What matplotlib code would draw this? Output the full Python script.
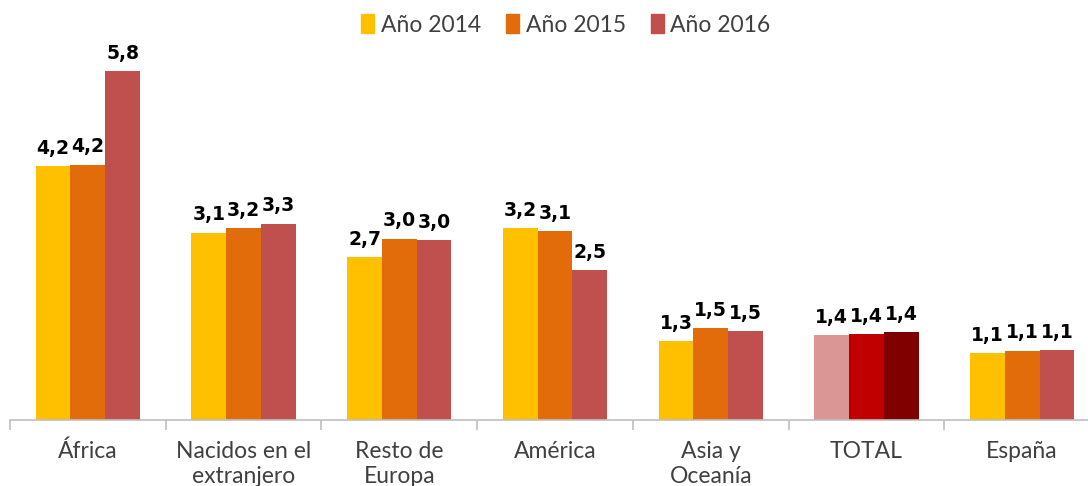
import matplotlib
matplotlib.use("Agg")
import matplotlib.pyplot as plt
import numpy as np
from matplotlib.patches import Patch

categories = ["África", "Nacidos en el\nextranjero", "Resto de\nEuropa", "América",
              "Asia y\nOceanía", "TOTAL", "España"]
series_names = ["Año 2014", "Año 2015", "Año 2016"]
v2014 = [4.22, 3.11, 2.71, 3.19, 1.31, 1.41, 1.11]
v2015 = [4.24, 3.19, 3.01, 3.14, 1.53, 1.43, 1.15]
v2016 = [5.80, 3.26, 2.99, 2.49, 1.48, 1.46, 1.16]
labels2014 = ["4,2", "3,1", "2,7", "3,2", "1,3", "1,4", "1,1"]
labels2015 = ["4,2", "3,2", "3,0", "3,1", "1,5", "1,4", "1,1"]
labels2016 = ["5,8", "3,3", "3,0", "2,5", "1,5", "1,4", "1,1"]

colors = ["#FFC000", "#E36C0A", "#C0504D"]
total_colors = ["#D99694", "#C00000", "#800000"]

W, H = 1088, 486
fig = plt.figure(figsize=(W / 100, H / 100), dpi=100)
ymax = 6.5
px_per_unit = 60.2
base_y = 420
ax = fig.add_axes([10 / W, 1 - base_y / H, 1090 / W, ymax * px_per_unit / H])

x = np.arange(len(categories))
bw = 0.223
series = [v2014, v2015, v2016]
labs = [labels2014, labels2015, labels2016]
for i, (vals, lab) in enumerate(zip(series, labs)):
    cols = [colors[i]] * len(vals)
    cols[categories.index("TOTAL")] = total_colors[i]
    pos = x + (i - 1) * bw
    ax.bar(pos, vals, width=bw, color=cols, label=series_names[i], linewidth=0)
    for xp, v, t in zip(pos, vals, lab):
        ax.annotate(t, (xp, v), xytext=(0, 6), textcoords="offset points",
                    ha="center", va="bottom", fontsize=13.5, fontweight="bold",
                    family="DejaVu Sans", color="black")

ax.set_xlim(-0.5, len(categories) - 0.5)
ax.set_ylim(0, ymax)
ax.set_yticks([])
for s in ["top", "right", "left"]:
    ax.spines[s].set_visible(False)
ax.spines["bottom"].set_color("#BFBFBF")
ax.spines["bottom"].set_linewidth(1.2)
ax.set_xticks(x)
ax.set_xticklabels(categories, fontsize=16.5, color="#404040", family="Lato",
                   linespacing=1.25)
ax.tick_params(axis="x", which="major", length=0, pad=15)
ax.set_xticks(np.arange(-0.5, len(categories), 1), minor=True)
ax.tick_params(axis="x", which="minor", length=7, color="#BFBFBF", width=1.2)

handles = [Patch(color=c) for c in colors]
fig.legend(handles, series_names, loc="center", bbox_to_anchor=(566 / W, 1 - 25 / H),
           ncol=3, frameon=False, handlelength=0.55, handleheight=0.9,
           handletextpad=0.3, columnspacing=1.1,
           prop={"family": "Lato", "size": 16.5}, labelcolor="#404040")

fig.savefig("out.png", dpi=100)
